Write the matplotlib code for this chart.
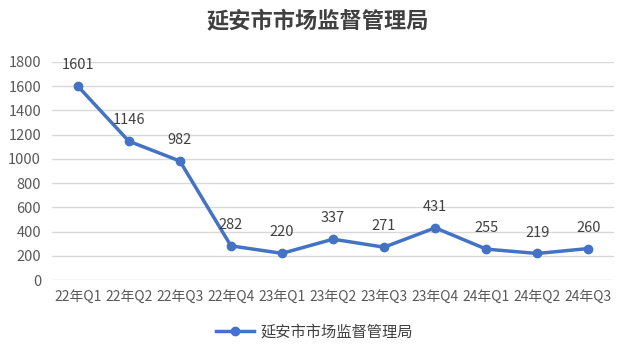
import matplotlib

matplotlib.use("Agg")
import matplotlib.pyplot as plt

plt.rcParams["font.family"] = ["Noto Sans CJK SC", "DejaVu Sans"]

# Data
quarters = ["22年Q1", "22年Q2", "22年Q3", "22年Q4", "23年Q1", "23年Q2",
            "23年Q3", "23年Q4", "24年Q1", "24年Q2", "24年Q3"]
values = [1601, 1146, 982, 282, 220, 337, 271, 431, 255, 219, 260]
series_name = "延安市市场监督管理局"

BLUE = "#4472C4"
GRID = "#D9D9D9"
TICK = "#595959"

fig = plt.figure(figsize=(6.29, 3.54), dpi=100)
ax = fig.add_axes([0.083, 0.209, 0.893, 0.616])

x = list(range(len(quarters)))
ax.plot(x, values, color=BLUE, linewidth=2.5, marker="o", markersize=6,
        label=series_name, zorder=3)

for xi, v in zip(x, values):
    ax.annotate(str(v), (xi, v), xytext=(0, 10), textcoords="offset points",
                ha="center", va="bottom", fontsize=10.5, color="#404040")

ax.set_xlim(-0.5, len(quarters) - 0.5)
ax.set_ylim(0, 1800)
ax.set_yticks(range(0, 1801, 200))
ax.set_xticks(x)
ax.set_xticklabels(quarters)
ax.tick_params(axis="both", length=0, colors=TICK)
ax.tick_params(axis="x", pad=7, labelsize=10)
ax.tick_params(axis="y", pad=8, labelsize=10.5)
ax.grid(axis="y", color=GRID, linewidth=1)
ax.set_axisbelow(True)
for s in ax.spines.values():
    s.set_visible(False)

fig.suptitle(series_name, x=0.505, y=0.975, fontsize=16, fontweight="bold",
             color="#404040")

fig.legend(loc="lower center", bbox_to_anchor=(0.5, 0.0), frameon=False,
           fontsize=11, labelcolor="#404040", handlelength=2.5,
           handletextpad=0.4)

fig.savefig("out.png", dpi=100)
